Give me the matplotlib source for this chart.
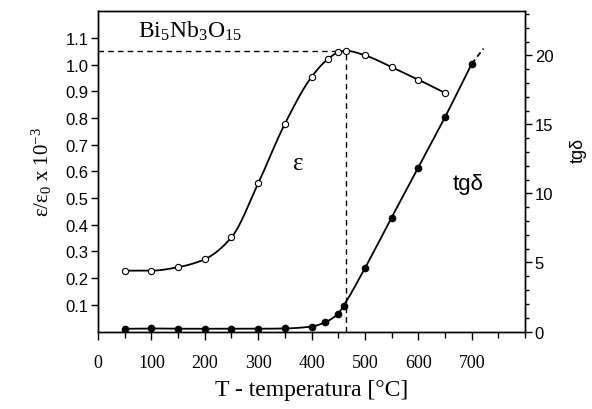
import numpy as np
import matplotlib
matplotlib.use("Agg")
import matplotlib.pyplot as plt
from matplotlib.ticker import MultipleLocator

plt.rcParams['mathtext.fontset'] = 'custom'
plt.rcParams['mathtext.rm'] = 'Liberation Serif'
plt.rcParams['mathtext.it'] = 'Liberation Serif:italic'

# ---- data ----
eps_T = [50, 100, 150, 200, 250, 300, 350, 400, 430, 450, 465, 500, 550, 600, 650]
eps_val = [0.228, 0.228, 0.241, 0.271, 0.353, 0.555, 0.778, 0.954, 1.020, 1.046,
           1.052, 1.035, 0.991, 0.944, 0.894]
tg_T = [50, 100, 150, 200, 250, 300, 350, 400, 425, 450, 460, 500, 550, 600, 650, 700]
tg_val = [0.20, 0.22, 0.20, 0.20, 0.20, 0.20, 0.22, 0.36, 0.66, 1.30, 1.86, 4.59,
          8.26, 11.88, 15.53, 19.39]
tg_ext_T = [700, 722]
tg_ext_val = [19.39, 20.5]
peak_T = 465
peak_eps = 1.052
x_ticks = [0, 100, 200, 300, 400, 500, 600, 700]


def pchip(x, y, xs):
    x = np.asarray(x, float); y = np.asarray(y, float)
    h = np.diff(x); d = np.diff(y) / h
    n = len(x); m = np.zeros(n)
    for k in range(1, n - 1):
        if d[k - 1] * d[k] > 0:
            w1 = 2 * h[k] + h[k - 1]; w2 = h[k] + 2 * h[k - 1]
            m[k] = (w1 + w2) / (w1 / d[k - 1] + w2 / d[k])
    m[0] = d[0]; m[-1] = d[-1]
    out = np.empty_like(xs)
    for i, xv in enumerate(xs):
        k = min(max(np.searchsorted(x, xv) - 1, 0), n - 2)
        t = (xv - x[k]) / h[k]
        h00 = 2*t**3 - 3*t**2 + 1; h10 = t**3 - 2*t**2 + t
        h01 = -2*t**3 + 3*t**2; h11 = t**3 - t**2
        out[i] = h00*y[k] + h10*h[k]*m[k] + h01*y[k+1] + h11*h[k]*m[k+1]
    return out


fig = plt.figure(figsize=(5.92, 4.10), dpi=100)
ax = fig.add_axes([0.1655, 0.189, 0.7215, 0.781])
ax2 = ax.twinx()

serif = 'Liberation Serif'
sans = 'Liberation Sans'

# epsilon curve
xs = np.linspace(eps_T[0], eps_T[-1], 300)
ax.plot(xs, pchip(eps_T, eps_val, xs), color='black', lw=1.3, zorder=3)
ax.plot(eps_T, eps_val, 'o', ms=4.5, mfc='white', mec='black', mew=0.8, zorder=4)

# tg delta curve
xs2 = np.linspace(tg_T[0], tg_T[-1], 300)
ax2.plot(xs2, pchip(tg_T, tg_val, xs2), color='black', lw=1.3, zorder=3)
ax2.plot(tg_T, tg_val, 'o', ms=4.5, mfc='black', mec='black', zorder=4)
ax2.plot(tg_ext_T, tg_ext_val, color='black', lw=1.3, ls=(0, (3, 2)))

# dashed guide lines
ax.plot([0, peak_T], [peak_eps, peak_eps], color='black', lw=1.0, ls=(0, (4, 3)), zorder=2)
ax.plot([peak_T, peak_T], [0, peak_eps], color='black', lw=1.0, ls=(0, (4, 3)), zorder=2)

ax.set_xlim(0, 800)
ax.set_ylim(0, 1.2)
ax2.set_ylim(0, 23.2)

ax.set_xticks(x_ticks)
ax.set_xticklabels([str(v) for v in x_ticks], fontfamily=serif, fontsize=13)
ax.xaxis.set_minor_locator(MultipleLocator(50))
ax.set_yticks(np.round(np.arange(0.1, 1.15, 0.1), 1))
ax.set_yticklabels(['%.1f' % v for v in np.arange(0.1, 1.15, 0.1)], fontfamily=sans, fontsize=12)
ax2.set_yticks([0, 5, 10, 15, 20])
ax2.set_yticklabels(['0', '5', '10', '15', '20'], fontfamily=sans, fontsize=12)
ax2.yaxis.set_minor_locator(MultipleLocator(1))

ax.tick_params(axis='x', which='major', direction='out', length=6, width=1, pad=10)
ax.tick_params(axis='x', which='minor', direction='out', length=4, width=1)
ax.tick_params(axis='y', which='major', direction='out', length=5, width=1, pad=2)
ax2.tick_params(axis='y', which='major', direction='out', length=5, width=1, pad=2)
ax2.tick_params(axis='y', which='minor', direction='out', length=3, width=1)

for a in (ax, ax2):
    for s in a.spines.values():
        s.set_linewidth(1.0)

ax.set_xlabel('T - temperatura [°C]', fontfamily=serif, fontsize=17, labelpad=6)
ax.set_ylabel(r'$\mathrm{\varepsilon/\varepsilon_0\ x\ 10^{-3}}$', fontsize=15, labelpad=8)
ax2.set_ylabel('tgδ', fontfamily=sans, fontsize=13)
ax2.yaxis.set_label_coords(1.105, 0.57)

ax.text(75, 1.104, r'$\mathrm{Bi_5Nb_3O_{15}}$', fontsize=17, va='baseline', ha='left')
ax.text(375, 0.631, 'ε', fontfamily=serif, fontsize=18, ha='center', va='center')
ax.text(694, 0.553, 'tgδ', fontfamily=sans, fontsize=16, ha='center', va='center')

fig.savefig('out.png', dpi=100)
